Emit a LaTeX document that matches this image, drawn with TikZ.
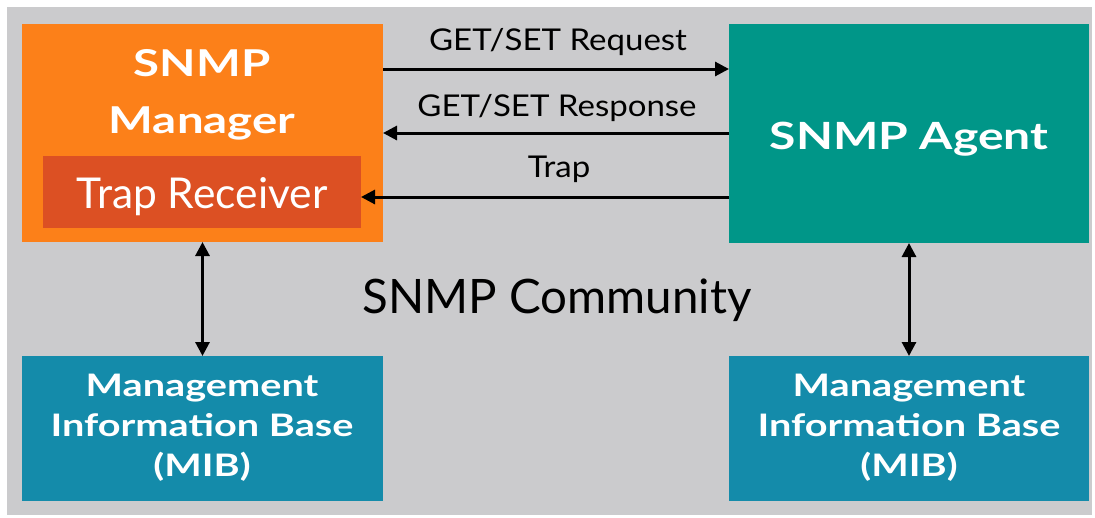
\documentclass[tikz,border=0pt]{standalone}
\usepackage{fontspec}
\setmainfont{Lato}
\newfontfamily\wbold{Lato}[FakeStretch=1.28]
\newfontfamily\wreg{Lato}[FakeStretch=1.1]
\usetikzlibrary{arrows.meta}
\definecolor{bggray}{RGB}{203,203,205}
\definecolor{mgrorange}{RGB}{252,128,25}
\definecolor{traporange}{RGB}{220,80,35}
\definecolor{agentteal}{RGB}{0,150,136}
\definecolor{mibblue}{RGB}{20,139,170}
\tikzset{
  box/.style={anchor=north west, inner sep=0pt, outer sep=0pt},
  boxtext/.style={text=white, inner sep=0pt, align=center},
  lbl/.style={text=black, inner sep=0pt, anchor=base, font=\wreg\fontsize{30}{32}\selectfont},
  arr/.style={line width=3pt, -{Triangle[length=14pt,width=14pt]}},
  darr/.style={line width=3pt, {Triangle[length=14pt,width=14pt]}-{Triangle[length=14pt,width=14pt]}}
}
\begin{document}
\begin{tikzpicture}[x=1pt,y=-1pt]
\useasboundingbox (0,0) rectangle (1095,517);
\fill[white] (0,0) rectangle (1095,517);
\fill[bggray] (7,7) rectangle (1092,515);
% boxes
\node[box, fill=mgrorange, minimum width=361pt, minimum height=218pt] (mgr) at (22,24) {};
\node[box, fill=traporange, minimum width=318pt, minimum height=72pt] (trap) at (43,156) {};
\node[box, fill=agentteal, minimum width=360pt, minimum height=219pt] (agent) at (729,24) {};
\node[box, fill=mibblue, minimum width=361pt, minimum height=145pt] (mibL) at (22,356) {};
\node[box, fill=mibblue, minimum width=360pt, minimum height=145pt] (mibR) at (729,356) {};
% box texts
\node[boxtext, anchor=base, font=\wbold\bfseries\fontsize{37}{57}\selectfont] (mgrt1) at (202,76) {SNMP};
\node[boxtext, anchor=base, font=\wbold\bfseries\fontsize{37}{57}\selectfont] (mgrt2) at (202,133) {Manager};
\node[boxtext, anchor=base, font=\fontsize{42.5}{45}\selectfont] (trapt) at (202,208) {Trap Receiver};
\node[boxtext, anchor=base, font=\wbold\bfseries\fontsize{37.5}{45}\selectfont] (agentt) at (909,149) {SNMP Agent};
\node[boxtext, font=\wbold\bfseries\fontsize{31}{40}\selectfont] (mibLt) at (202,428) {Management\\Information Base\\(MIB)};
\node[boxtext, font=\wbold\bfseries\fontsize{31}{40}\selectfont] (mibRt) at (909,428) {Management\\Information Base\\(MIB)};
\node[anchor=base, inner sep=0pt, font=\fontsize{47.5}{52}\selectfont] (comm) at (557,313) {SNMP Community};
% arrows
\coordinate (reqA) at (383,69);
\coordinate (reqB) at (729,69);
\coordinate (resA) at (729,133);
\coordinate (resB) at (383,133);
\coordinate (trpA) at (729,197);
\coordinate (trpB) at (361,197);
\draw[arr] (mgr.east |- reqA) -- (agent.west |- reqB);
\draw[arr] (agent.west |- resA) -- (mgr.east |- resB);
\draw[arr] (agent.west |- trpA) -- (trap.east |- trpB);
\node[lbl] (reqt) at (558,50) {GET/SET Request};
\node[lbl] (rest) at (557,116) {GET/SET Response};
\node[lbl] (trpt) at (559,177) {Trap};
\draw[darr] (mgr.south) -- (mibL.north);
\draw[darr] (agent.south) -- (mibR.north);
\end{tikzpicture}
\end{document}
